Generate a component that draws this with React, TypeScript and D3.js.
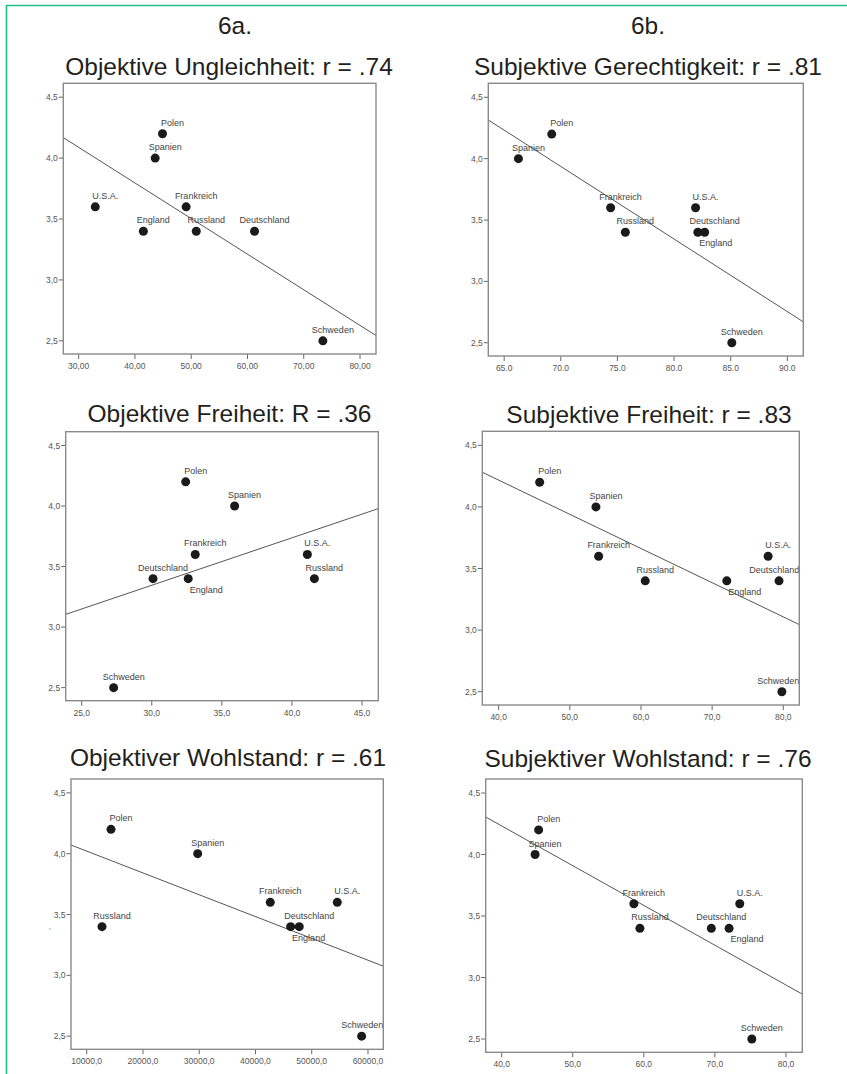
import React, { useEffect, useRef } from "react";
import * as d3 from "d3";

// ---- Data ----
const countries = ["Polen", "Spanien", "U.S.A.", "Frankreich", "England", "Russland", "Deutschland", "Schweden"];
const yValues = [4.2, 4.0, 3.6, 3.6, 3.4, 3.4, 3.4, 2.5];

const objUngleichheit = [44.9, 43.6, 32.95, 49.1, 41.5, 50.9, 61.25, 73.4];
const subjGerechtigkeit = [69.2, 66.26, 81.9, 74.4, 82.1, 75.7, 82.7, 85.1];
const objFreiheit = [32.42, 35.91, 41.1, 33.1, 32.6, 41.6, 30.09, 27.28];
const subjFreiheit = [45.76, 53.67, 77.87, 54.05, 72.06, 60.6, 79.4, 79.8];
const objWohlstand = [14320, 29730, 54540, 42630, 46250, 12720, 47780, 58870];
const subjWohlstand = [45.2, 44.7, 73.5, 58.6, 72.0, 59.45, 69.5, 75.2];

const yTicks = [2.5, 3.0, 3.5, 4.0, 4.5];
const ticksUngleichheit = [30, 40, 50, 60, 70, 80];
const ticksGerechtigkeit = [65, 70, 75, 80, 85, 90];
const ticksObjFreiheit = [25, 30, 35, 40, 45];
const ticksSubjFreiheit = [40, 50, 60, 70, 80];
const ticksObjWohlstand = [10000, 20000, 30000, 40000, 50000, 60000];
const ticksSubjWohlstand = [40, 50, 60, 70, 80];

const columnHeaders = ["6a.", "6b."];

const titles = [
  "Objektive Ungleichheit: r = .74",
  "Subjektive Gerechtigkeit: r = .81",
  "Objektive Freiheit: R = .36",
  "Subjektive Freiheit: r = .83",
  "Objektiver Wohlstand: r = .61",
  "Subjektiver Wohlstand: r = .76",
];

const comma = (digits: number) => (v: number) => v.toFixed(digits).replace(".", ",");
const dot = (digits: number) => (v: number) => v.toFixed(digits);

const panels = [
  { x: objUngleichheit, ticks: ticksUngleichheit, domain: [27.27, 82.84], fmt: comma(2), below: [] as string[] },
  { x: subjGerechtigkeit, ticks: ticksGerechtigkeit, domain: [63.6, 91.41], fmt: dot(1), below: ["England"] },
  { x: objFreiheit, ticks: ticksObjFreiheit, domain: [23.86, 46.16], fmt: comma(1), below: ["England"] },
  { x: subjFreiheit, ticks: ticksSubjFreiheit, domain: [37.7, 82.25], fmt: comma(1), below: ["England"] },
  { x: objWohlstand, ticks: ticksObjWohlstand, domain: [7210, 62720], fmt: comma(1), below: ["England"] },
  { x: subjWohlstand, ticks: ticksSubjWohlstand, domain: [37.75, 82.3], fmt: comma(1), below: ["England"] },
];

// ---- Layout ----
const layout = [
  { left: 63.3, right: 376, top: 83.3, bottom: 354, titleX: 229, titleY: 75 },
  { left: 488.3, right: 803.3, top: 83.3, bottom: 356, titleX: 648, titleY: 75 },
  { left: 65.7, right: 378.3, top: 431.7, bottom: 700.7, titleX: 229.5, titleY: 421.7 },
  { left: 482.3, right: 799.3, top: 431.3, bottom: 705, titleX: 649, titleY: 422.7 },
  { left: 71, right: 383.3, top: 779, bottom: 1049.3, titleX: 228, titleY: 766 },
  { left: 485.7, right: 802.3, top: 779, bottom: 1052.3, titleX: 648, titleY: 766.7 },
];
const headerPos = [
  { x: 235, y: 34.3 },
  { x: 648, y: 34.3 },
];
const yDomain = [2.392, 4.614];
const FONT = "'Liberation Sans', Arial, Helvetica, sans-serif";

function regression(xs: number[], ys: number[]) {
  const mx = d3.mean(xs) as number;
  const my = d3.mean(ys) as number;
  let sxy = 0;
  let sxx = 0;
  xs.forEach((x, i) => {
    sxy += (x - mx) * (ys[i] - my);
    sxx += (x - mx) * (x - mx);
  });
  const b = sxy / sxx;
  return { a: my - b * mx, b };
}

export default function App() {
  const ref = useRef<SVGSVGElement | null>(null);

  useEffect(() => {
    const svg = d3.select(ref.current);
    svg.selectAll("*").remove();

    // outer green frame
    svg.append("path")
      .attr("d", "M6.5,1074 L6.5,5.5 L847,5.5")
      .attr("fill", "none")
      .attr("stroke", "#1dbf8b")
      .attr("stroke-width", 1.6);

    columnHeaders.forEach((h, i) => {
      svg.append("text")
        .attr("x", headerPos[i].x)
        .attr("y", headerPos[i].y)
        .attr("text-anchor", "middle")
        .attr("font-family", FONT)
        .attr("font-size", 24.5)
        .attr("fill", "#231f20")
        .text(h);
    });

    panels.forEach((p, pi) => {
      const L = layout[pi];
      const g = svg.append("g");
      const xs = d3.scaleLinear().domain(p.domain).range([L.left, L.right]);
      const ys = d3.scaleLinear().domain(yDomain).range([L.bottom, L.top]);

      g.append("text")
        .attr("x", L.titleX)
        .attr("y", L.titleY)
        .attr("text-anchor", "middle")
        .attr("font-family", FONT)
        .attr("font-size", 24.5)
        .attr("fill", "#231f20")
        .text(titles[pi]);

      // y ticks
      yTicks.forEach((t) => {
        const y = ys(t);
        g.append("line")
          .attr("x1", L.left - 4.5).attr("x2", L.left)
          .attr("y1", y).attr("y2", y)
          .attr("stroke", "#666").attr("stroke-width", 1);
        g.append("text")
          .attr("x", L.left - 5.5)
          .attr("y", y + 3)
          .attr("text-anchor", "end")
          .attr("font-family", FONT)
          .attr("font-size", 8.5)
          .attr("fill", "#555")
          .text(comma(1)(t));
      });

      // x ticks
      p.ticks.forEach((t) => {
        const x = xs(t);
        g.append("line")
          .attr("x1", x).attr("x2", x)
          .attr("y1", L.bottom).attr("y2", L.bottom + 5)
          .attr("stroke", "#666").attr("stroke-width", 1);
        g.append("text")
          .attr("x", x)
          .attr("y", L.bottom + 15)
          .attr("text-anchor", "middle")
          .attr("font-family", FONT)
          .attr("font-size", 8.5)
          .attr("fill", "#555")
          .text(p.fmt(t));
      });

      // regression line
      const { a, b } = regression(p.x, yValues);
      const clipId = `clip${pi}`;
      g.append("clipPath").attr("id", clipId)
        .append("rect")
        .attr("x", L.left).attr("y", L.top)
        .attr("width", L.right - L.left).attr("height", L.bottom - L.top);
      g.append("line")
        .attr("clip-path", `url(#${clipId})`)
        .attr("x1", xs(p.domain[0])).attr("y1", ys(a + b * p.domain[0]))
        .attr("x2", xs(p.domain[1])).attr("y2", ys(a + b * p.domain[1]))
        .attr("stroke", "#555").attr("stroke-width", 1);

      // points
      p.x.forEach((xv, i) => {
        g.append("circle")
          .attr("cx", xs(xv)).attr("cy", ys(yValues[i]))
          .attr("r", 4.5)
          .attr("fill", "#1a1a1a");
      });

      // labels
      p.x.forEach((xv, i) => {
        const name = countries[i];
        const below = p.below.includes(name);
        const cx = xs(xv) + (below ? 18 : 10);
        const cy = ys(yValues[i]) + (below ? 14 : -8);
        const t = g.append("text")
          .attr("x", cx)
          .attr("y", cy)
          .attr("text-anchor", "middle")
          .attr("font-family", FONT)
          .attr("font-size", 9)
          .attr("fill", "#444")
          .text(name);
        const node = t.node() as SVGTextElement;
        const w = node.getComputedTextLength();
        if (cx + w / 2 > L.right) t.attr("x", L.right - w / 2);
        if (cx - w / 2 < L.left) t.attr("x", L.left + w / 2);
      });

      // frame
      g.append("rect")
        .attr("x", L.left).attr("y", L.top)
        .attr("width", L.right - L.left).attr("height", L.bottom - L.top)
        .attr("fill", "none")
        .attr("stroke", "#8a8a8a")
        .attr("stroke-width", 1.4);
    });

    // small stray mark left of the 5th panel
    svg.append("text")
      .attr("x", 49.3).attr("y", 933)
      .attr("font-family", FONT)
      .attr("font-size", 8)
      .attr("fill", "#666")
      .text("'");
  }, []);

  return (
    <svg
      ref={ref}
      width={847}
      height={1074}
      style={{ position: "absolute", left: 0, top: 0, background: "#fff" }}
    />
  );
}
